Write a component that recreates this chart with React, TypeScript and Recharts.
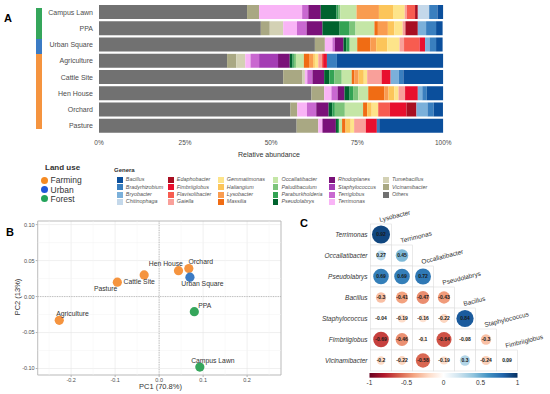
import React from "react";
import {
  BarChart, Bar, XAxis, YAxis, ScatterChart, Scatter, CartesianGrid, ReferenceLine, ReferenceArea,
} from "recharts";

const FONT = '"Liberation Sans", Arial, sans-serif';

// ---------- A: relative abundance ----------
const sites = ["Campus Lawn", "PPA", "Urban Square", "Agriculture", "Cattle Site", "Hen House", "Orchard", "Pasture"];
const siteLandUse = ["Forest", "Forest", "Urban", "Farming", "Farming", "Farming", "Farming", "Farming"];

const genera = [
  "Bacillus", "Bradyrhizobium", "Bryobacter", "Chitinophaga",
  "Edaphobacter", "Fimbriiglobus", "Flavisolibacter", "Gaiella",
  "Gemmatimonas", "Haliangium", "Lysobacter", "Massilia",
  "Occallatibacter", "Paludibaculum", "Paraburkholderia", "Pseudolabrys",
  "Rhodoplanes", "Staphylococcus", "Terriglobus", "Terrimonas",
  "Tumebacillus", "Vicinamibacter", "Others",
];
const generaColors = [
  "#0b4f9c", "#3a7fbf", "#7bb0da", "#c4d8ea",
  "#a80f22", "#e8102e", "#f75c50", "#f9a09a",
  "#fde48a", "#fcc55a", "#f99c50", "#f06c14",
  "#c4e6a6", "#7cc47a", "#33a354", "#00632e",
  "#7a1179", "#a43cb4", "#c968d0", "#f9b4f6",
  "#d3d1b4", "#a9a883", "#717171",
];

// values in genera order (%)
const campusLawn = [1.9, 2.4, 0, 3.3, 0.8, 0, 2.4, 0.6, 3.4, 4.1, 6.5, 0, 4.7, 0.5, 0.6, 4.6, 3.6, 0, 1.8, 12.5, 0, 3.5, 43.0];
const ppa = [1.9, 2.9, 2.4, 0, 3.6, 0, 0, 0.8, 2.4, 1.9, 2.9, 1.0, 5.5, 1.7, 2.9, 5.0, 4.6, 0, 2.8, 4.0, 3.9, 2.6, 47.0];
const urbanSquare = [1.9, 1.9, 1.3, 0, 0, 1.6, 4.5, 1.3, 3.6, 3.2, 1.7, 3.8, 2.2, 0, 1.0, 0.8, 2.5, 0, 0.7, 2.2, 0, 2.9, 62.7];
const agriculture = [31.0, 2.9, 0, 0, 0, 1.1, 0.4, 1.0, 1.0, 0.5, 1.2, 1.5, 2.3, 0.6, 0.4, 0.8, 3.4, 5.5, 2.5, 1.5, 2.6, 2.7, 37.2];
const cattleSite = [11.8, 1.3, 2.4, 0, 0, 2.6, 0, 4.2, 1.0, 1.5, 1.2, 0.8, 2.9, 2.1, 1.5, 1.5, 3.4, 0, 1.5, 0.7, 0.7, 5.6, 53.5];
const henHouse = [4.8, 1.3, 1.3, 0, 0, 3.7, 0, 1.9, 1.2, 1.7, 1.2, 4.7, 2.9, 1.5, 1.0, 1.5, 2.0, 0, 1.8, 2.1, 0, 3.7, 61.7];
const orchard = [2.7, 1.8, 3.2, 0, 2.9, 4.8, 3.4, 0, 1.9, 1.3, 0, 1.2, 5.3, 2.9, 0.7, 1.1, 3.6, 0, 2.7, 2.8, 0, 2.0, 55.6];
const pasture = [18.9, 0.7, 0, 0, 0, 3.2, 0, 3.4, 1.0, 1.5, 0, 1.0, 0.8, 0, 0.4, 0.6, 3.9, 0, 0, 1.2, 0, 6.3, 57.4];
const abundanceBySite = [campusLawn, ppa, urbanSquare, agriculture, cattleSite, henHouse, orchard, pasture];
const abundanceTicks = [0, 25, 50, 75, 100];

const landUses = ["Farming", "Urban", "Forest"];
const landUseColors: Record<string, string> = { Farming: "#f5943f", Urban: "#3b7bc4", Forest: "#35a65b" };
const landUseKeyColors: Record<string, string> = { Farming: "#f58a22", Urban: "#1f57d9", Forest: "#22a35a" };

// ---------- B: PCA ----------
const pcaSites = ["Agriculture", "Pasture", "Cattle Site", "Hen House", "Orchard", "Urban Square", "PPA", "Campus Lawn"];
const pc1 = [-0.227, -0.095, -0.034, 0.044, 0.0675, 0.07, 0.08, 0.0925];
const pc2 = [-0.033, 0.02, 0.03, 0.036, 0.039, 0.027, -0.021, -0.098];
const pc1Ticks = [-0.2, -0.1, 0, 0.1, 0.2];
const pc2Ticks = [-0.1, -0.05, 0, 0.05, 0.1];
const pc1Minor = [-0.25, -0.15, -0.05, 0.05, 0.15, 0.25];
const pc2Minor = [-0.075, -0.025, 0.025, 0.075];

// ---------- C: correlations ----------
const corrRowNames = ["Terrimonas", "Occallatibacter", "Pseudolabrys", "Bacillus", "Staphylococcus", "Fimbriiglobus", "Vicinamibacter"];
const corrColNames = ["Lysobacter", "Terrimonas", "Occallatibacter", "Pseudolabrys", "Bacillus", "Staphylococcus", "Fimbriiglobus"];
const corrValues = [
  [0.92],
  [0.27, 0.45],
  [0.69, 0.69, 0.72],
  [-0.3, -0.41, -0.47, -0.43],
  [-0.04, -0.19, -0.16, -0.22, 0.84],
  [-0.69, -0.46, -0.1, -0.64, -0.08, -0.3],
  [-0.2, -0.22, -0.58, -0.19, 0.3, -0.24, 0.09],
];
const corrTicks = [-1, -0.5, 0, 0.5, 1];
const rdbu = ["#67001F", "#B2182B", "#D6604D", "#F4A582", "#FDDBC7", "#FFFFFF", "#D1E5F0", "#92C5DE", "#4393C3", "#2166AC", "#053061"];

function corrColor(v: number) {
  const t = ((v + 1) / 2) * (rdbu.length - 1);
  const i = Math.min(rdbu.length - 2, Math.floor(t));
  const f = t - i;
  const a = rdbu[i], b = rdbu[i + 1];
  const ch = (h: string, k: number) => parseInt(h.slice(1 + 2 * k, 3 + 2 * k), 16);
  const mix = [0, 1, 2].map((k) => Math.round(ch(a, k) + (ch(b, k) - ch(a, k)) * f));
  return `rgb(${mix.join(",")})`;
}

const CELL = 21;

function CorrCell(props: any) {
  const { cx, cy, payload } = props;
  const h = CELL / 2;
  const rad = Math.sqrt(Math.abs(payload.r)) * 9.4;
  return (
    <g>
      <rect x={cx - h} y={cy - h} width={CELL} height={CELL} fill="#fff" stroke="#dcdcdc" strokeWidth={0.6} />
      <circle cx={cx} cy={cy} r={rad} fill={corrColor(payload.r)} />
      <text x={cx} y={cy} dy="0.35em" textAnchor="middle" fontSize={5} fontWeight="bold" fill="#1a1a1a">
        {String(payload.r)}
      </text>
      {payload.diag && (
        <text transform={`translate(${cx - 1},${cy - h - 2}) rotate(-14)`} fontSize={6.5} fill="#333">
          {payload.colName}
        </text>
      )}
    </g>
  );
}

const pcaLabelPos: Record<string, { dx: number; dy: number; anchor: "start" | "end" }> = {
  Agriculture: { dx: -3, dy: -6.7, anchor: "start" },
  Pasture: { dx: 0, dy: 6.7, anchor: "end" },
  "Cattle Site": { dx: -20.7, dy: 7, anchor: "start" },
  "Hen House": { dx: 4.4, dy: -6.7, anchor: "end" },
  Orchard: { dx: -0.4, dy: -6.7, anchor: "start" },
  "Urban Square": { dx: -8.7, dy: 6.7, anchor: "start" },
  PPA: { dx: 4, dy: -6.3, anchor: "start" },
  "Campus Lawn": { dx: -8.7, dy: -6.6, anchor: "start" },
};

function PcaPoint(props: any) {
  const { cx, cy, payload } = props;
  const p = pcaLabelPos[payload.site];
  return (
    <g>
      <circle cx={cx} cy={cy} r={4.6} fill={landUseColors[payload.use]} />
      <text x={cx + p.dx} y={cy + p.dy} dy="0.35em" textAnchor={p.anchor} fontSize={6.8} fill="#333">
        {payload.site}
      </text>
    </g>
  );
}

function SiteTick(props: any) {
  const { x, y, payload } = props;
  return (
    <text x={x} y={y} dy="0.35em" textAnchor="end" fontSize={7} fill="#4d4d4d">{payload.value}</text>
  );
}

const abs = (left: number, top: number, extra: React.CSSProperties = {}): React.CSSProperties => ({
  position: "absolute", left, top, lineHeight: 1, whiteSpace: "nowrap", ...extra,
});

export default function App() {
  const barRows = sites.map((site, i) => {
    const row: Record<string, any> = { site };
    genera.forEach((g, k) => (row[g] = abundanceBySite[i][k]));
    return row;
  });
  const stackOrder = genera.map((g, k) => ({ g, color: generaColors[k] })).reverse();

  const pcaPoints = pcaSites.map((site, i) => ({
    site, x: pc1[i], y: pc2[i], use: siteLandUse[sites.indexOf(site)],
  }));

  const corrCells = corrValues.flatMap((vals, row) =>
    vals.map((r, col) => ({ x: col, y: row, r, diag: col === row, colName: corrColNames[col] }))
  );

  const stripTop = 8.3;
  const stripRow = 15.1;

  return (
    <div style={{ position: "absolute", left: 0, top: 0, width: 550, height: 394, background: "#fff", fontFamily: FONT, overflow: "hidden" }}>
      {/* A */}
      <div style={abs(0, 0)}>
        <BarChart width={550} height={165} data={barRows} layout="vertical" margin={{ top: 4, right: 106.7, bottom: 1, left: 0 }} barCategoryGap={1.1}>
          <XAxis type="number" domain={[0, 100]} ticks={abundanceTicks} tickFormatter={(v) => `${v}%`} axisLine={false} tickLine={false} tickSize={4} height={30} tick={{ fontSize: 6.5, fill: "#4d4d4d" }} allowDataOverflow />
          <YAxis type="category" dataKey="site" width={99} axisLine={false} tickLine={false} tickSize={4} tickMargin={2} interval={0} tick={<SiteTick />} />
          {stackOrder.map(({ g, color }) => (
            <Bar key={g} dataKey={g} stackId="a" fill={color} isAnimationActive={false} />
          ))}
        </BarChart>
      </div>
      {siteLandUse.map((u, i) => (
        <div key={i} style={abs(36, stripTop + stripRow * i, { width: 5.5, height: stripRow + 0.3, background: landUseColors[u] })} />
      ))}
      <div style={abs(238, 150.5, { fontSize: 7, color: "#333" })}>Relative abundance</div>

      {/* legends */}
      <div style={abs(45, 164, { fontSize: 8, fontWeight: "bold", color: "#333" })}>Land use</div>
      {landUses.map((u, i) => (
        <div key={u} style={abs(40.5, 176.3 + 9.2 * i, { fontSize: 8.5, color: "#333", display: "flex", alignItems: "center" })}>
          <span style={{ display: "inline-block", width: 7, height: 7, borderRadius: 4, background: landUseKeyColors[u], marginRight: 3 }} />
          {u}
        </div>
      ))}
      <div style={abs(114, 167, { fontSize: 6, fontWeight: "bold", color: "#333" })}>Genera</div>
      {genera.map((g, k) => {
        const colX = [117, 168, 218, 272.7, 329.3, 383.3][Math.floor(k / 4)];
        const rowY = 177 + 7.25 * (k % 4);
        return (
          <div key={g} style={abs(colX, rowY, { fontSize: 5.4, fontStyle: "italic", color: "#555", display: "flex", alignItems: "center" })}>
            <span style={{ display: "inline-block", width: 5.8, height: 6.2, background: generaColors[k], marginRight: 3 }} />
            {g}
          </div>
        );
      })}

      {/* B */}
      <div style={abs(0, 210)}>
        <ScatterChart width={290} height={184} margin={{ top: 11, right: 9, bottom: 0, left: 0 }}>
          <CartesianGrid stroke="#e6e6e6" strokeWidth={0.6} />
          {pc1Minor.map((v) => <ReferenceLine key={`x${v}`} x={v} stroke="#f2f2f2" strokeWidth={0.5} />)}
          {pc2Minor.map((v) => <ReferenceLine key={`y${v}`} y={v} stroke="#f2f2f2" strokeWidth={0.5} />)}
          <ReferenceLine x={0} stroke="#a6a6a6" strokeDasharray="1.2 1.2" strokeWidth={0.7} />
          <ReferenceLine y={0} stroke="#a6a6a6" strokeDasharray="1.2 1.2" strokeWidth={0.7} />
          <XAxis type="number" dataKey="x" domain={[-0.276, 0.277]} ticks={pc1Ticks} tickFormatter={(v) => v.toFixed(1)} height={19} tickSize={2} tickMargin={1} axisLine={false} tickLine={{ stroke: "#b3b3b3" }} tick={{ fontSize: 5.5, fill: "#4d4d4d" }} allowDataOverflow />
          <YAxis type="number" dataKey="y" domain={[-0.109, 0.105]} ticks={pc2Ticks} tickFormatter={(v) => v.toFixed(2)} width={37.7} tickSize={2} tickMargin={1} axisLine={false} tickLine={{ stroke: "#b3b3b3" }} tick={{ fontSize: 5.5, fill: "#4d4d4d" }} allowDataOverflow />
          <ReferenceArea x1={-0.276} x2={0.277} y1={-0.109} y2={0.105} fill="none" stroke="#b3b3b3" strokeWidth={0.8} ifOverflow="visible" />
          <Scatter data={pcaPoints} shape={PcaPoint} isAnimationActive={false} />
        </ScatterChart>
      </div>
      <div style={abs(139, 383, { fontSize: 7.5, color: "#333" })}>PC1 (70.8%)</div>
      <div style={abs(18, 297, { fontSize: 7.5, color: "#333", transform: "translate(-50%,-50%) rotate(-90deg)" })}>PC2 (13%)</div>

      {/* C */}
      <div style={abs(290, 200)}>
        <ScatterChart width={260} height={194} margin={{ top: 24, right: 32.5, bottom: 23, left: 0.5 }}>
          <XAxis type="number" dataKey="x" domain={[-0.5, 6.5]} hide />
          <YAxis type="number" dataKey="y" domain={[-0.5, 6.5]} reversed ticks={corrRowNames.map((_, i) => i)} tickFormatter={(i) => corrRowNames[i]} width={80} axisLine={false} tickLine={false} tickSize={0} tickMargin={3} interval={0} tick={{ fontSize: 6.5, fill: "#333", fontStyle: "italic" }} />
          <Scatter data={corrCells} shape={CorrCell} isAnimationActive={false} />
        </ScatterChart>
      </div>
      <svg style={abs(363, 371)} width={162} height={20}>
        <defs>
          <linearGradient id="rdbu" x1="0" x2="1" y1="0" y2="0">
            {rdbu.map((c, i) => <stop key={i} offset={i / (rdbu.length - 1)} stopColor={c} />)}
          </linearGradient>
        </defs>
        <rect x={6.5} y={2} width={148} height={4.7} fill="url(#rdbu)" />
        {corrTicks.map((v) => (
          <text key={v} x={6.5 + ((v + 1) / 2) * 148} y={12} dy="0.35em" textAnchor="middle" fontSize={6.5} fill="#333">{String(v)}</text>
        ))}
      </svg>

      <div style={abs(4, 13, { fontSize: 11, fontWeight: "bold" })}>A</div>
      <div style={abs(6, 227, { fontSize: 11, fontWeight: "bold" })}>B</div>
      <div style={abs(300, 218, { fontSize: 11, fontWeight: "bold" })}>C</div>
    </div>
  );
}
